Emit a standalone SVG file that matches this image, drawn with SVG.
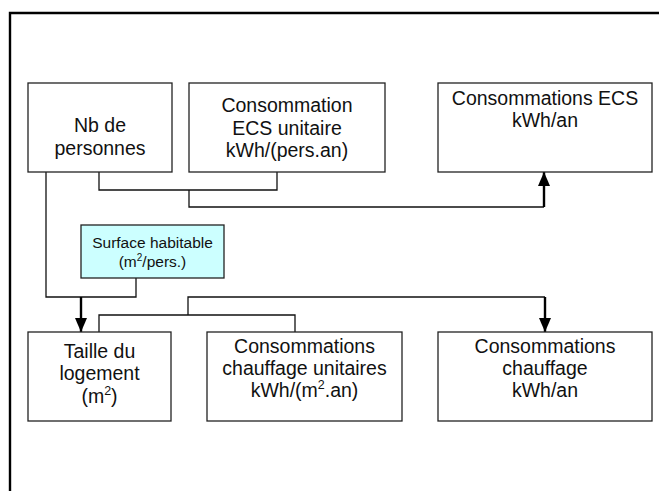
<svg xmlns="http://www.w3.org/2000/svg" width="659" height="491" viewBox="0 0 659 491">
<style>
.box{fill:#ffffff;stroke:#222222;stroke-width:1.3}
.hl{fill:#ccffff;stroke:#222222;stroke-width:1.3}
.t{font-family:"Liberation Sans",Arial,sans-serif;font-size:19.5px;fill:#111111;text-anchor:middle}
.s{font-family:"Liberation Sans",Arial,sans-serif;font-size:15.5px;fill:#111111;text-anchor:middle}
.ln{fill:none;stroke:#111111;stroke-width:1.3}
.ar{fill:none;stroke:#000000;stroke-width:2.4}
</style>
<defs>
<marker id="ah" markerWidth="12" markerHeight="13" refX="6" refY="13" orient="auto" markerUnits="userSpaceOnUse" viewBox="0 0 12 13">
<path d="M0,13 L6,0 L12,13 Z" fill="#000000" transform="rotate(90 6 6.5)"/>
</marker>
<marker id="arrow" viewBox="0 0 14 12" refX="14" refY="6" markerWidth="14" markerHeight="12" markerUnits="userSpaceOnUse" orient="auto">
<path d="M0,0 L14,6 L0,12 Z" fill="#000000"/>
</marker>
</defs>
<rect width="659" height="491" fill="#ffffff"/>
<path d="M10,491 V13 H659" fill="none" stroke="#000000" stroke-width="2.4"/>

<g id="connectors">
<path class="ln" d="M99,172 V190 H277 V172"/>
<path class="ln" d="M189,190 V207 H544"/>
<path class="ar" d="M544,207 V172" marker-end="url(#arrow)"/>
<path class="ln" d="M46,172 V297 H136 V278"/>
<path class="ar" d="M81,297 V332" marker-end="url(#arrow)"/>
<path class="ln" d="M99,332 V315 H295 V332"/>
<path class="ln" d="M188,315 V297 H545"/>
<path class="ar" d="M545,297 V332" marker-end="url(#arrow)"/>
</g>

<g id="nb-personnes">
<rect class="box" x="28" y="83" width="144" height="89"/>
<text class="t" x="100" y="132">Nb de</text>
<text class="t" x="100" y="155">personnes</text>
</g>

<g id="conso-ecs-unitaire">
<rect class="box" x="189" y="83" width="196" height="89"/>
<text class="t" x="287" y="112">Consommation</text>
<text class="t" x="287" y="134.5">ECS unitaire</text>
<text class="t" x="287" y="157">kWh/(pers.an)</text>
</g>

<g id="conso-ecs">
<rect class="box" x="438" y="83" width="214" height="89"/>
<text class="t" x="545" y="105">Consommations ECS</text>
<text class="t" x="545" y="127">kWh/an</text>
</g>

<g id="surface-habitable">
<rect class="hl" x="81" y="225" width="143" height="53"/>
<text class="s" x="152.5" y="248">Surface habitable</text>
<text class="s" x="152.5" y="266.5">(m<tspan font-size="10" dy="-6">2</tspan><tspan dy="6">/pers.)</tspan></text>
</g>

<g id="taille-logement">
<rect class="box" x="28" y="332" width="143" height="89"/>
<text class="t" x="99.5" y="357.5">Taille du</text>
<text class="t" x="99.5" y="380">logement</text>
<text class="t" x="99.5" y="402.5">(m<tspan font-size="12.5" dy="-8">2</tspan><tspan dy="8">)</tspan></text>
</g>

<g id="conso-chauffage-unitaires">
<rect class="box" x="207" y="332" width="195" height="89"/>
<text class="t" x="304.5" y="352.5">Consommations</text>
<text class="t" x="304.5" y="374.5">chauffage unitaires</text>
<text class="t" x="304.5" y="397">kWh/(m<tspan font-size="12.5" dy="-8">2</tspan><tspan dy="8">.an)</tspan></text>
</g>

<g id="conso-chauffage">
<rect class="box" x="438" y="332" width="214" height="89"/>
<text class="t" x="545" y="352.5">Consommations</text>
<text class="t" x="545" y="375">chauffage</text>
<text class="t" x="545" y="397">kWh/an</text>
</g>
</svg>
